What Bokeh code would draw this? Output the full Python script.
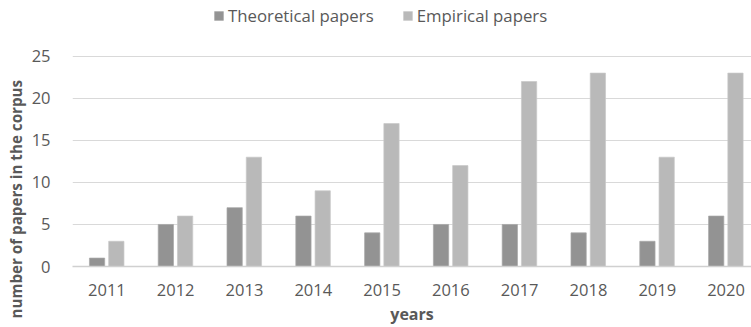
from bokeh.plotting import figure
from bokeh.models import ColumnDataSource, Range1d, Legend, LegendItem, FixedTicker, CustomJSTickFormatter, Title
from bokeh.embed import file_html
from bokeh.resources import INLINE
from bokeh.transform import dodge

years = [2011, 2012, 2013, 2014, 2015, 2016, 2017, 2018, 2019, 2020]
theoretical = [1, 5, 7, 6, 4, 5, 5, 4, 3, 6]
empirical = [3, 6, 13, 9, 17, 12, 22, 23, 13, 23]
y_ticks = [0, 5, 10, 15, 20, 25]

src = ColumnDataSource(dict(x=years, t=theoretical, e=empirical))

FONT = "Open Sans"
TXT = "#595959"

p = figure(width=751, height=327, output_backend="svg", toolbar_location=None,
           x_range=Range1d(2010.5, 2020.37), y_range=Range1d(0, 31.16),
           min_border_left=64, min_border_right=0, min_border_top=4, min_border_bottom=60)

r1 = p.vbar(x=dodge("x", -0.143, range=p.x_range), top="t", width=0.222, source=src,
            fill_color="#939393", line_color="#a8a8a8", line_width=0.7)
r2 = p.vbar(x=dodge("x", 0.137, range=p.x_range), top="e", width=0.222, source=src,
            fill_color="#b9b9b9", line_color="#c8c8c8", line_width=0.7)

p.outline_line_color = None
p.xgrid.grid_line_color = None
p.ygrid.grid_line_color = "#d9d9d9"
p.ygrid.grid_line_width = 1.2

p.xaxis.ticker = FixedTicker(ticks=years)
p.xaxis.formatter = CustomJSTickFormatter(code="return tick.toFixed(0);")
p.yaxis.ticker = FixedTicker(ticks=y_ticks)

for ax in (p.xaxis[0], p.yaxis[0]):
    ax.major_tick_line_color = None
    ax.minor_tick_line_color = None
    ax.major_label_text_font = FONT
    ax.major_label_text_font_size = "16.5px"
    ax.major_label_text_color = TXT
    ax.axis_label_text_font = FONT
    ax.axis_label_text_font_size = "16px"
    ax.axis_label_text_font_style = "bold"
    ax.axis_label_text_color = TXT

p.xaxis.axis_line_color = "#d0d0d0"
p.xaxis.axis_line_width = 1.5
p.yaxis.axis_line_color = None
p.xaxis.major_label_standoff = 11
p.yaxis.major_label_standoff = 16
p.xaxis.axis_label = "years"
p.xaxis.axis_label_standoff = 4

ytitle = Title(text="number of papers in the corpus", align="left", offset=-52,
               text_font=FONT, text_font_size="15.2px", text_font_style="bold",
               text_color=TXT, standoff=6)
p.add_layout(ytitle, "left")

legend = Legend(items=[LegendItem(label="Theoretical papers", renderers=[r1]),
                       LegendItem(label="Empirical papers", renderers=[r2])],
                location=(141, 239), orientation="horizontal",
                border_line_color=None, background_fill_alpha=0,
                padding=0, margin=0, spacing=28, label_standoff=4,
                glyph_width=11, glyph_height=11,
                label_text_font=FONT, label_text_font_size="16.8px",
                label_text_color=TXT)
p.add_layout(legend, "center")

open("out.html", "w").write(file_html(p, INLINE))
